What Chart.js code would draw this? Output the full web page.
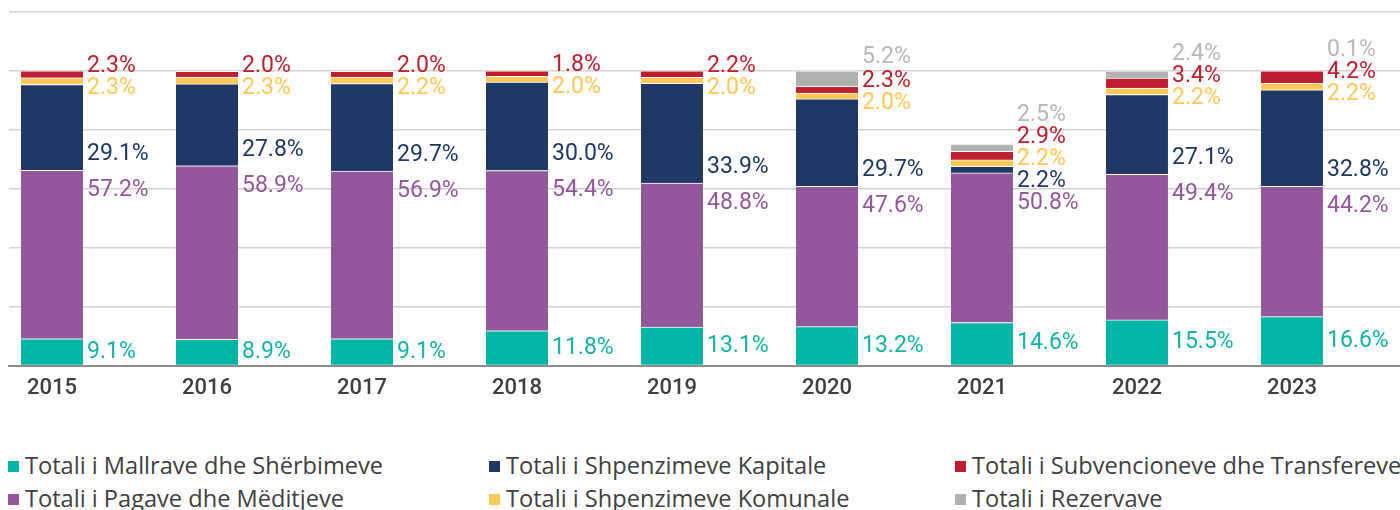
<!DOCTYPE html>
<html>
<head>
<meta charset="utf-8">
<title>Shpenzimet sipas kategorive</title>
<script src="https://cdn.jsdelivr.net/npm/chart.js@4.4.1/dist/chart.umd.min.js"></script>
<style>
  html, body { margin: 0; padding: 0; background: #fff; overflow: hidden; }
  #wrap { position: relative; width: 1400px; height: 510px; }
  #myChart { position: absolute; left: 0; top: 0; }
  #legend {
    position: absolute; left: 8px; top: 448px;
    display: grid; grid-auto-flow: column;
    grid-template-rows: 33px 33px;
    grid-template-columns: 481px 466px 600px;
    font-family: "Open Sans", sans-serif; font-size: 23.6px; color: #404040;
    white-space: nowrap;
  }
  #legend .item { display: flex; align-items: center; }
  #legend .box { width: 11px; height: 11px; margin-right: 6px; margin-top: 3px; }
</style>
</head>
<body>
<div id="wrap">
  <canvas id="myChart" width="1400" height="412"></canvas>
  <div id="legend"></div>
</div>
<script>
var years = ['2015', '2016', '2017', '2018', '2019', '2020', '2021', '2022', '2023'];

// pjesa ne % e secilit zeri
var mallrave    = [9.1, 8.9, 9.1, 11.8, 13.1, 13.2, 14.6, 15.5, 16.6];
var pagave      = [57.2, 58.9, 56.9, 54.4, 48.8, 47.6, 50.8, 49.4, 44.2];
var kapitale    = [29.1, 27.8, 29.7, 30.0, 33.9, 29.7, 2.2, 27.1, 32.8];
var komunale    = [2.3, 2.3, 2.2, 2.0, 2.0, 2.0, 2.2, 2.2, 2.2];
var subvencione = [2.3, 2.0, 2.0, 1.8, 2.2, 2.3, 2.9, 3.4, 4.2];
var rezerva     = [null, null, null, null, null, 5.2, 2.5, 2.4, 0.1];

var seriesNames = [
    'Totali i Mallrave dhe Shërbimeve',
    'Totali i Pagave dhe Mëditjeve',
    'Totali i Shpenzimeve Kapitale',
    'Totali i Shpenzimeve Komunale',
    'Totali i Subvencioneve dhe Transfereve',
    'Totali i Rezervave'
];
var seriesValues = [mallrave, pagave, kapitale, komunale, subvencione, rezerva];
var barColors   = ['#00B5A5', '#93589C', '#1F3864', '#FFC857', '#BE1E2D', '#B1B1B1'];
var labelColors = ['#13B3A5', '#93589C', '#1F3864', '#FFC857', '#BE1E2D', '#B8B8B8'];

var datasets = seriesValues.map(function (values, d) {
    return {
        label: seriesNames[d],
        data: values.map(function (v, i) { return { x: i, y: v }; }),
        backgroundColor: barColors[d],
        borderColor: '#ffffff',
        borderWidth: { top: 1, right: 0, bottom: 0, left: 0 },
        borderSkipped: 'start',
        barThickness: 62
    };
});

// etiketat me % ne te djathte te shtylles
var sideLabels = {
    id: 'sideLabels',
    afterDatasetsDraw: function (chart) {
        var ctx = chart.ctx;
        var gap = 22;
        ctx.save();
        ctx.font = '23px Roboto';
        ctx.textAlign = 'left';
        ctx.textBaseline = 'middle';

        function place(g) {
            var s = 0;
            g.items.forEach(function (it, k) { s += it.want - k * gap; });
            g.start = s / g.items.length;
        }

        for (var i = 0; i < years.length; i++) {
            var items = [];
            for (var d = chart.data.datasets.length - 1; d >= 0; d--) {
                var v = chart.data.datasets[d].data[i].y;
                if (v == null) continue;
                var bar = chart.getDatasetMeta(d).data[i];
                var top = bar.y, bottom = bar.base, want;
                if (d === 0) want = (top + bottom) / 2;
                else if (d === 1) want = top + 20;
                else if (d === 2) want = bottom - 16;
                else if (d === 4) want = top + 3;
                else if (d === 5) want = top - 14;
                else want = (top + bottom) / 2;
                items.push({ d: d, text: v.toFixed(1) + '%', want: want, x: bar.x + bar.width / 2 + 4 });
            }

            var groups = [];
            items.forEach(function (it) {
                var g = { items: [it] };
                place(g);
                groups.push(g);
                while (groups.length > 1) {
                    var a = groups[groups.length - 2], b = groups[groups.length - 1];
                    if (b.start - (a.start + (a.items.length - 1) * gap) >= gap) break;
                    a.items = a.items.concat(b.items);
                    groups.pop();
                    place(a);
                }
            });

            groups.forEach(function (g) {
                g.items.forEach(function (it, k) {
                    ctx.fillStyle = labelColors[it.d];
                    ctx.fillText(it.text, it.x, g.start + k * gap);
                });
            });
        }
        ctx.restore();
    }
};

var config = {
    type: 'bar',
    data: { datasets: datasets },
    options: {
        responsive: false,
        animation: false,
        layout: { padding: { top: 12, left: 9, right: 0, bottom: 0 } },
        plugins: {
            legend: { display: false },
            tooltip: { enabled: false }
        },
        scales: {
            x: {
                type: 'linear',
                min: -0.2774,
                max: 8.697,
                offset: false,
                stacked: true,
                grid: { display: false, drawTicks: false },
                border: { display: true, color: '#8E8E8E', width: 2 },
                ticks: {
                    stepSize: 1,
                    includeBounds: false,
                    maxRotation: 0,
                    autoSkip: false,
                    padding: 10,
                    color: '#3F3F3F',
                    font: { family: 'Roboto', size: 22, weight: '500' },
                    callback: function (value) { return years[value]; }
                }
            },
            y: {
                min: 0,
                max: 120,
                stacked: true,
                grid: {
                    drawTicks: false,
                    lineWidth: 1.5,
                    color: function (c) { return c.tick && c.tick.value === 0 ? 'rgba(0,0,0,0)' : '#D3D3D3'; }
                },
                border: { display: false },
                ticks: { display: false, stepSize: 20 }
            }
        }
    },
    plugins: [sideLabels]
};

var myChart = new Chart(document.getElementById('myChart').getContext('2d'), config);

// legjenda
var legendBox = document.getElementById('legend');
myChart.data.datasets.forEach(function (ds) {
    var item = document.createElement('div');
    item.className = 'item';
    var box = document.createElement('span');
    box.className = 'box';
    box.style.backgroundColor = ds.backgroundColor;
    var txt = document.createElement('span');
    txt.textContent = ds.label;
    item.appendChild(box);
    item.appendChild(txt);
    legendBox.appendChild(item);
});
</script>
</body>
</html>
